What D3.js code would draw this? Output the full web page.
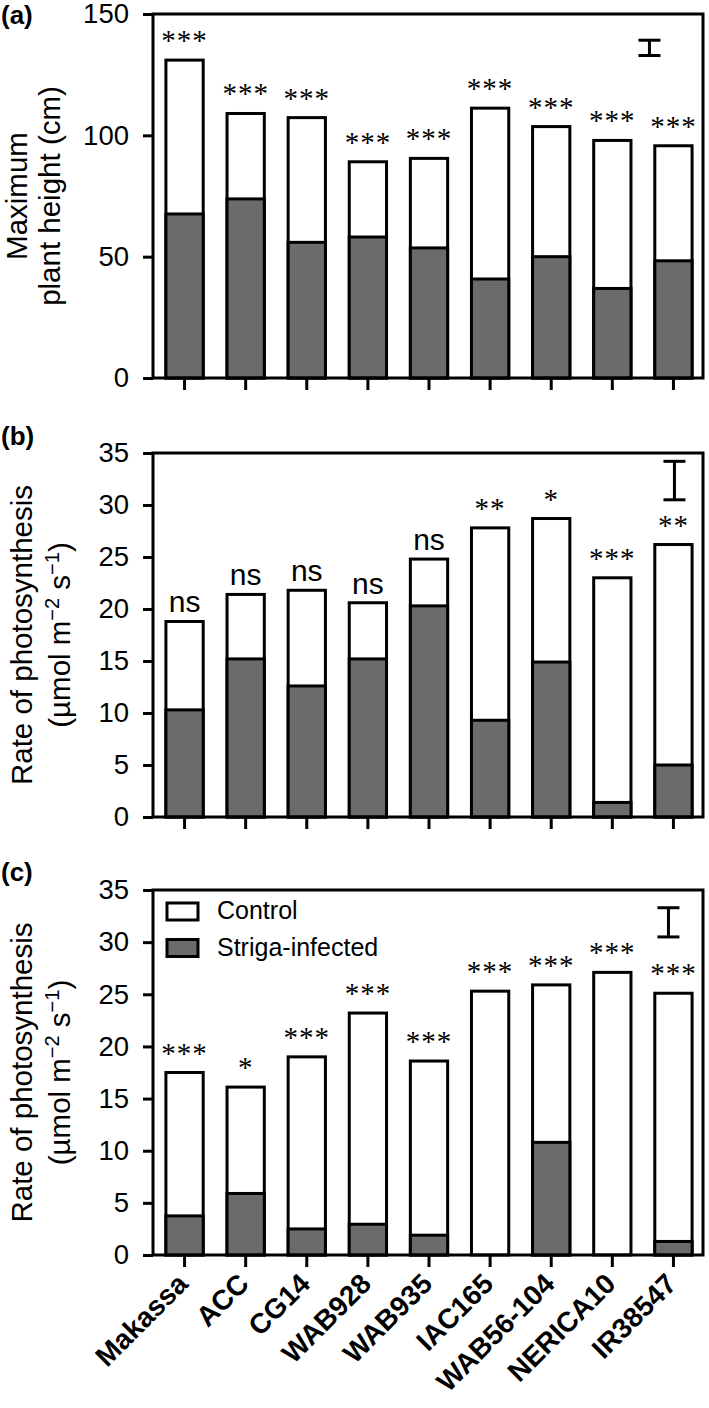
<!DOCTYPE html>
<html>
<head>
<meta charset="utf-8">
<script src="https://cdn.jsdelivr.net/npm/d3@7"></script>
<style>
  body { margin: 0; background: #fff; }
  svg { display: block; font-family: "Liberation Sans", Arial, sans-serif; }
</style>
</head>
<body>
<svg id="chart" width="709" height="1408"></svg>
<script>
const cultivars = ["Makassa", "ACC", "CG14", "WAB928", "WAB935", "IAC165", "WAB56-104", "NERICA10", "IR38547"];
const seriesNames = ["Control", "Striga-infected"];

// (a) maximum plant height, cm
const heightControl = [131, 109, 107.3, 89.1, 90.5, 111.2, 103.6, 97.9, 95.7];
const heightStriga = [67.6, 73.8, 55.9, 58.1, 53.6, 40.8, 50, 36.9, 48.3];
const heightSig = ["***", "***", "***", "***", "***", "***", "***", "***", "***"];
const heightTicks = [0, 50, 100, 150];
const heightErr = [132.9, 139.2];

// (b) rate of photosynthesis
const photoBControl = [18.8, 21.4, 21.8, 20.6, 24.8, 27.8, 28.7, 23.0, 26.2];
const photoBStriga = [10.3, 15.2, 12.6, 15.2, 20.3, 9.3, 14.9, 1.4, 5.0];
const photoBSig = ["ns", "ns", "ns", "ns", "ns", "**", "*", "***", "**"];
const photoBErr = [30.5, 34.2];

// (c) rate of photosynthesis
const photoCControl = [17.5, 16.1, 19.0, 23.2, 18.6, 25.3, 25.9, 27.1, 25.1];
const photoCStriga = [3.75, 5.9, 2.5, 2.95, 1.9, 0, 10.8, 0, 1.3];
const photoCSig = ["***", "*", "***", "***", "***", "***", "***", "***", "***"];
const photoCErr = [30.5, 33.3];

const photoTicks = [0, 5, 10, 15, 20, 25, 30, 35];

const svg = d3.select("#chart");
const left = 153, right = 703;
const grey = "#6b6b6b";

const x = d3.scaleBand()
  .domain(cultivars)
  .range([left + 1, right + 1])
  .paddingInner(0.39)
  .paddingOuter(0.195);

function drawPanel(p) {
  const y = d3.scaleLinear().domain([0, p.max]).range([p.bottom, p.top]);
  const g = svg.append("g");

  // control bars (white), striga bars (grey) on top
  g.selectAll(".ctrl")
    .data(p.control)
    .enter().append("rect")
    .attr("x", (d, i) => x(cultivars[i]))
    .attr("y", d => y(d))
    .attr("width", x.bandwidth())
    .attr("height", d => y(0) - y(d))
    .attr("fill", "#fff")
    .attr("stroke", "#000")
    .attr("stroke-width", 3);

  g.selectAll(".inf")
    .data(p.striga)
    .enter().append("rect")
    .attr("x", (d, i) => x(cultivars[i]))
    .attr("y", d => y(d))
    .attr("width", x.bandwidth())
    .attr("height", d => y(0) - y(d))
    .attr("fill", grey)
    .attr("stroke", "#000")
    .attr("stroke-width", d => d > 0 ? 3 : 0);

  // significance labels
  g.selectAll(".sig")
    .data(p.sig)
    .enter().append("text")
    .attr("x", (d, i) => x(cultivars[i]) + x.bandwidth() / 2)
    .attr("y", (d, i) => y(p.control[i]) - (d === "ns" ? 9 : 10))
    .attr("text-anchor", "middle")
    .attr("font-family", d => d === "ns" ? null : "'Liberation Serif', 'Times New Roman', serif")
    .attr("font-size", d => d === "ns" ? 30 : 29)
    .attr("letter-spacing", d => d === "ns" ? null : 1)
    .text(d => d);

  // frame
  g.append("rect")
    .attr("x", left)
    .attr("y", y(p.max))
    .attr("width", right - left)
    .attr("height", y(0) - y(p.max))
    .attr("fill", "none")
    .attr("stroke", "#000")
    .attr("stroke-width", 3);

  // y axis
  const ya = g.append("g")
    .attr("transform", "translate(" + left + ",0)")
    .call(d3.axisLeft(y).tickValues(p.ticks).tickSize(10).tickSizeOuter(0).tickPadding(14));
  ya.select(".domain").remove();
  ya.selectAll("line").attr("stroke-width", 3);
  ya.selectAll("text").attr("font-size", 27.5).attr("font-family", null).attr("fill", "#000");

  // x axis
  const xa = g.append("g")
    .attr("transform", "translate(0," + y(0) + ")")
    .call(d3.axisBottom(x).tickSize(12).tickSizeOuter(0));
  xa.select(".domain").remove();
  xa.selectAll("line").attr("stroke-width", 3);
  if (p.labels) {
    xa.selectAll("text")
      .attr("font-size", 28)
      .attr("font-weight", "bold")
      .attr("font-family", null)
      .attr("fill", "#000")
      .attr("text-anchor", "end")
      .attr("transform", "rotate(-45)")
      .attr("x", -18)
      .attr("y", 25)
      .attr("dy", null);
  } else {
    xa.selectAll("text").remove();
  }

  // error bar
  const ex = x(cultivars[cultivars.length - 1]) + x.bandwidth() / 2 + p.errShift;
  const eb = g.append("g").attr("stroke", "#000").attr("stroke-width", 3);
  eb.append("line").attr("x1", ex).attr("x2", ex).attr("y1", y(p.err[0])).attr("y2", y(p.err[1]));
  p.err.forEach(v => {
    eb.append("line").attr("x1", ex - 11).attr("x2", ex + 11).attr("y1", y(v)).attr("y2", y(v));
  });

  // panel letter
  svg.append("text")
    .attr("x", 1)
    .attr("y", p.letterY)
    .attr("font-size", 26)
    .attr("font-weight", "bold")
    .text(p.letter);

  // y title
  const mid = (p.top + p.bottom) / 2;
  const t = svg.append("text")
    .attr("transform", "translate(0," + mid + ") rotate(-90)")
    .attr("text-anchor", "middle")
    .attr("font-size", 29.5);
  t.append("tspan").attr("x", 0).attr("y", p.titleX[0]).text(p.title[0]);
  const t2 = t.append("tspan").attr("x", 0).attr("y", p.titleX[1]);
  if (p.unit) {
    t2.append("tspan").text("(\u00b5mol m");
    t2.append("tspan").attr("font-size", 20).attr("dy", -11).text("\u22122");
    t2.append("tspan").attr("dy", 11).text(" s");
    t2.append("tspan").attr("font-size", 20).attr("dy", -11).text("\u22121");
    t2.append("tspan").attr("dy", 11).text(")");
  } else {
    t2.text(p.title[1]);
  }
  return y;
}

drawPanel({
  letter: "(a)", letterY: 24,
  top: 14, bottom: 378, max: 150, ticks: heightTicks,
  control: heightControl, striga: heightStriga, sig: heightSig,
  err: heightErr, errShift: -24,
  title: ["Maximum", "plant height (cm)"], titleX: [27, 60]
});

drawPanel({
  letter: "(b)", letterY: 445,
  top: 453, bottom: 817, max: 35, ticks: photoTicks,
  control: photoBControl, striga: photoBStriga, sig: photoBSig,
  err: photoBErr, errShift: 1,
  title: ["Rate of photosynthesis"], unit: true, titleX: [32, 70]
});

drawPanel({
  letter: "(c)", letterY: 881,
  top: 890, bottom: 1255, max: 35, ticks: photoTicks,
  control: photoCControl, striga: photoCStriga, sig: photoCSig,
  err: photoCErr, errShift: -5,
  title: ["Rate of photosynthesis"], unit: true, titleX: [32, 70], labels: true
});

// legend in panel (c)
const legend = svg.append("g").attr("transform", "translate(167,903)");
legend.selectAll("rect")
  .data(seriesNames)
  .enter().append("rect")
  .attr("x", 0)
  .attr("y", (d, i) => i * 36.5)
  .attr("width", 31)
  .attr("height", 17)
  .attr("fill", (d, i) => i === 0 ? "#fff" : grey)
  .attr("stroke", "#000")
  .attr("stroke-width", 3);
legend.selectAll("text")
  .data(seriesNames)
  .enter().append("text")
  .attr("x", 50)
  .attr("y", (d, i) => 16 + i * 37)
  .attr("font-size", 25)
  .text(d => d);
</script>
</body>
</html>
